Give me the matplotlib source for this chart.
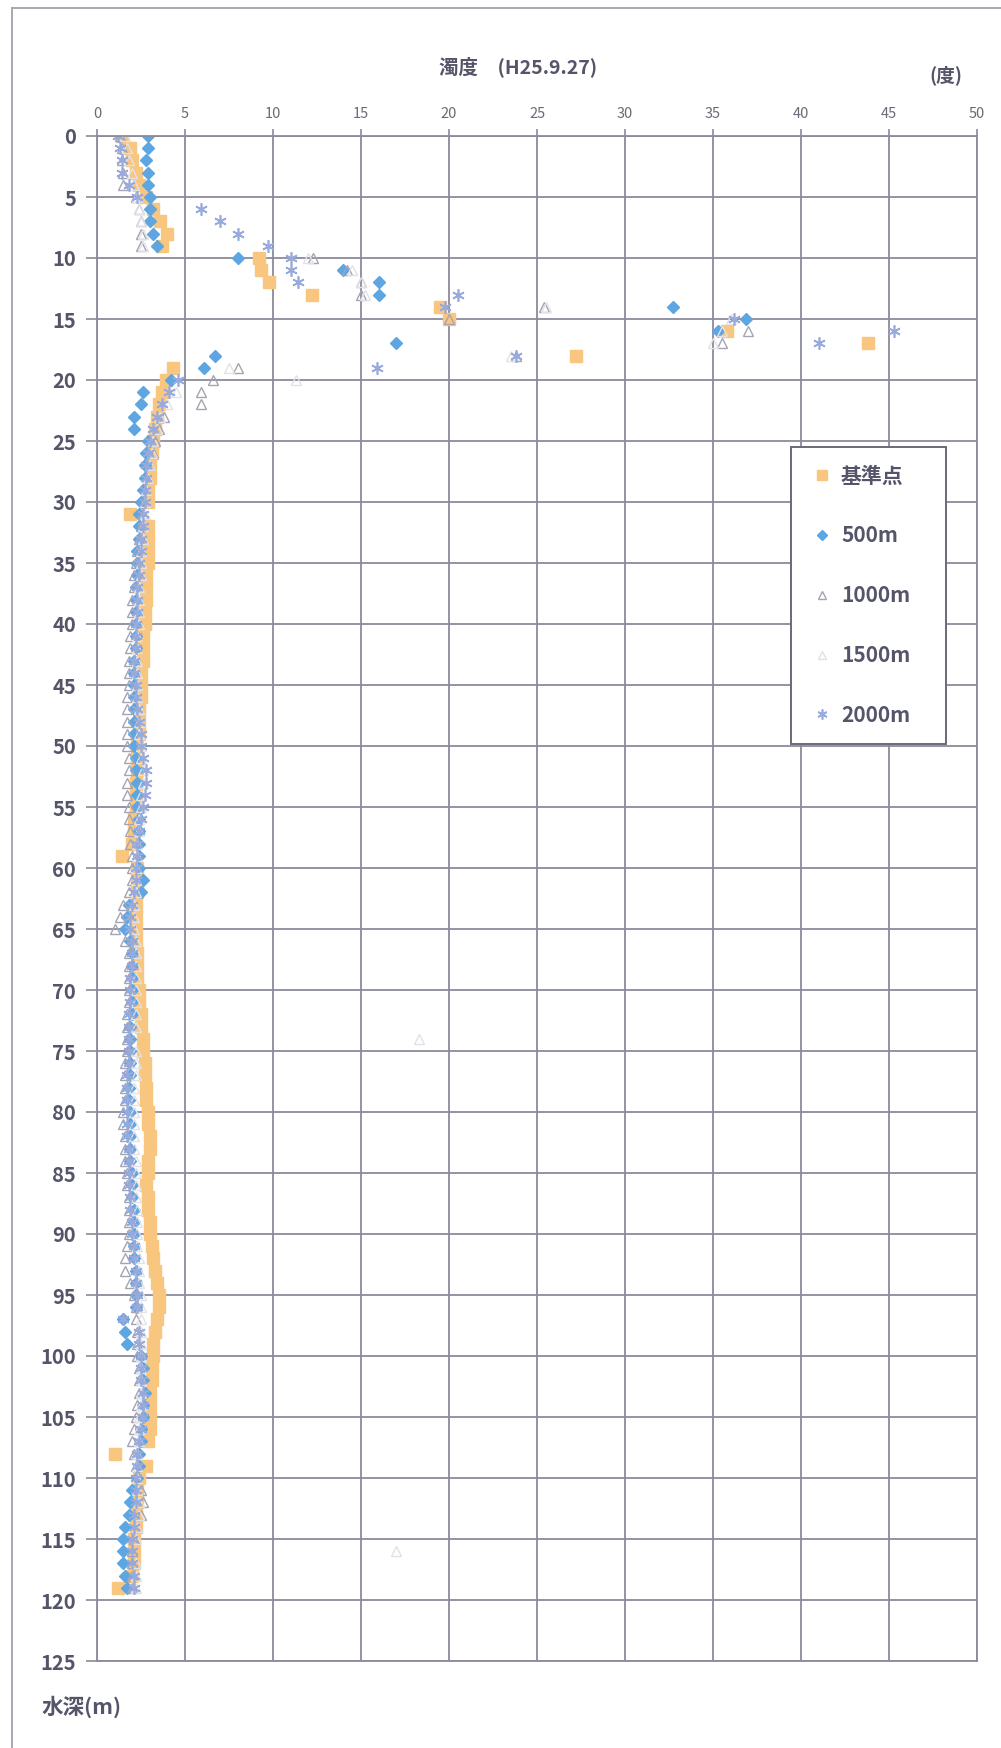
import matplotlib
matplotlib.use("Agg")
import matplotlib.pyplot as plt
from matplotlib.lines import Line2D
import numpy as np

plt.rcParams['font.family'] = ['Noto Sans CJK JP', 'DejaVu Sans']

# ---------------- data ----------------
depth = list(range(0, 120))

kijunten = [
    1.4, 1.9, 2.0, 2.2, 2.4, 2.8, 3.2, 3.6, 4.0, 3.7,
    9.2, 9.3, 9.8, 12.2, 19.5, 20.0, 35.8, 43.8, 27.2, 4.3,
    3.9, 3.7, 3.5, 3.4, 3.3, 3.2, 3.1, 3.0, 3.0, 2.9,
    2.9, 1.9, 2.9, 2.9, 2.9, 2.9, 2.8, 2.8, 2.8, 2.7,
    2.7, 2.6, 2.6, 2.6, 2.5, 2.5, 2.5, 2.4, 2.4, 2.4,
    2.3, 2.3, 2.3, 2.2, 2.2, 2.2, 2.1, 2.1, 2.0, 1.4,
    2.3, 2.3, 2.3, 2.2, 2.2, 2.2, 2.2, 2.3, 2.3, 2.3,
    2.4, 2.4, 2.5, 2.5, 2.6, 2.6, 2.7, 2.7, 2.8, 2.8,
    2.9, 2.9, 3.0, 3.0, 2.9, 2.9, 2.8, 2.9, 2.9, 3.0,
    3.0, 3.1, 3.2, 3.3, 3.4, 3.5, 3.5, 3.4, 3.3, 3.2,
    3.2, 3.1, 3.1, 3.0, 3.0, 3.0, 3.0, 2.9, 1.0, 2.8,
    2.4, 2.3, 2.3, 2.2, 2.2, 2.1, 2.1, 2.1, 2.0, 1.2,
]

m500 = [
    2.9, 2.9, 2.8, 2.9, 2.9, 3.0, 3.0, 3.0, 3.2, 3.4,
    8.0, 14.0, 16.0, 16.0, 32.7, 36.9, 35.3, 17.0, 6.7, 6.1,
    4.2, 2.6, 2.5, 2.1, 2.1, 2.9, 2.8, 2.7, 2.7, 2.6,
    2.5, 2.4, 2.4, 2.4, 2.3, 2.3, 2.3, 2.2, 2.2, 2.2,
    2.2, 2.2, 2.2, 2.1, 2.1, 2.1, 2.1, 2.1, 2.1, 2.1,
    2.1, 2.2, 2.2, 2.3, 2.3, 2.3, 2.4, 2.4, 2.4, 2.4,
    2.4, 2.6, 2.5, 1.8, 1.7, 1.6, 1.9, 2.0, 2.0, 2.0,
    2.0, 2.0, 2.0, 1.9, 1.9, 1.9, 1.9, 1.9, 1.8, 1.8,
    1.9, 1.9, 1.9, 1.9, 1.9, 2.0, 2.0, 2.0, 2.1, 2.1,
    2.1, 2.1, 2.1, 2.2, 2.2, 2.2, 2.2, 1.5, 1.6, 1.7,
    2.5, 2.6, 2.6, 2.7, 2.6, 2.6, 2.5, 2.5, 2.4, 2.4,
    2.3, 2.0, 1.9, 1.8, 1.6, 1.5, 1.5, 1.5, 1.6, 1.7,
]

m1000 = [
    1.3, 1.4, 1.4, 1.5, 1.5, 2.2, 2.4, 2.5, 2.5, 2.5,
    12.3, 14.2, 15.0, 15.0, 25.4, 20.0, 37.0, 35.5, 23.8, 8.0,
    6.6, 5.9, 5.9, 3.8, 3.5, 3.3, 3.2, 3.0, 2.9, 2.8,
    2.7, 2.6, 2.5, 2.4, 2.3, 2.2, 2.1, 2.1, 2.0, 2.0,
    2.0, 1.9, 1.9, 1.8, 1.8, 1.8, 1.7, 1.7, 1.7, 1.7,
    1.7, 1.8, 1.8, 1.7, 1.7, 1.8, 1.8, 1.9, 1.9, 2.0,
    2.0, 2.0, 1.8, 1.5, 1.3, 1.0, 1.6, 1.8, 1.8, 1.8,
    1.8, 1.8, 1.7, 1.7, 1.7, 1.7, 1.6, 1.6, 1.6, 1.6,
    1.5, 1.5, 1.6, 1.6, 1.6, 1.7, 1.7, 1.8, 1.8, 1.8,
    1.8, 1.7, 1.6, 1.6, 1.9, 2.1, 2.2, 2.2, 2.3, 2.3,
    2.3, 2.4, 2.4, 2.4, 2.3, 2.2, 2.1, 2.0, 2.1, 2.2,
    2.3, 2.5, 2.6, 2.5, 2.3, 2.1, 2.0, 2.0, 2.0, 2.0,
]

m1500 = [
    1.6, 1.7, 1.8, 2.0, 2.1, 2.3, 2.4, 2.5, 2.6, 2.6,
    12.0, 14.5, 15.0, 15.2, 25.5, 36.0, 35.5, 35.0, 23.5, 7.5,
    11.3, 4.5, 4.0, 3.6, 3.4, 3.2, 3.1, 3.0, 2.9, 2.8,
    2.7, 2.7, 2.6, 2.6, 2.5, 2.5, 2.5, 2.4, 2.4, 2.4,
    2.4, 2.3, 2.3, 2.3, 2.3, 2.3, 2.3, 2.4, 2.4, 2.4,
    2.5, 2.5, 2.6, 2.6, 2.5, 2.5, 2.4, 2.4, 2.3, 2.3,
    2.2, 2.2, 2.2, 2.1, 2.1, 2.1, 2.2, 2.2, 2.2, 2.2,
    2.2, 2.2, 2.2, 2.2, 18.3, 2.2, 2.2, 2.2, 2.1, 2.1,
    2.1, 2.1, 2.1, 2.1, 2.2, 2.2, 2.2, 2.2, 2.3, 2.3,
    2.3, 2.3, 2.4, 2.4, 2.4, 2.5, 2.5, 2.5, 2.5, 2.5,
    2.5, 2.5, 2.5, 2.5, 2.5, 2.4, 2.4, 2.4, 2.3, 2.3,
    2.3, 2.3, 2.4, 2.4, 2.3, 2.2, 17.0, 2.2, 2.2, 2.2,
]

m2000 = [
    1.2, 1.3, 1.4, 1.4, 1.8, 2.3, 5.9, 7.0, 8.0, 9.7,
    11.0, 11.0, 11.4, 20.5, 19.8, 36.2, 45.3, 41.0, 23.8, 15.9,
    4.6, 4.1, 3.7, 3.4, 3.2, 3.0, 2.9, 2.8, 2.8, 2.7,
    2.7, 2.6, 2.6, 2.5, 2.5, 2.4, 2.4, 2.3, 2.3, 2.3,
    2.2, 2.2, 2.2, 2.1, 2.1, 2.2, 2.2, 2.3, 2.4, 2.5,
    2.5, 2.6, 2.8, 2.8, 2.7, 2.6, 2.5, 2.4, 2.3, 2.3,
    2.2, 2.2, 2.1, 2.0, 1.9, 1.9, 2.0, 2.0, 2.0, 1.9,
    1.9, 1.9, 1.8, 1.8, 1.8, 1.8, 1.8, 1.7, 1.7, 1.7,
    1.7, 1.7, 1.7, 1.8, 1.8, 1.8, 1.8, 1.9, 1.9, 2.0,
    2.0, 2.1, 2.1, 2.2, 2.2, 2.3, 2.3, 1.5, 2.4, 2.4,
    2.5, 2.5, 2.5, 2.6, 2.6, 2.6, 2.5, 2.4, 2.3, 2.3,
    2.2, 2.2, 2.2, 2.1, 2.1, 2.0, 2.0, 2.0, 2.1, 2.1,
]

series_names = ['基準点', '500m', '1000m', '1500m', '2000m']
x_ticks = list(range(0, 51, 5))
y_ticks = list(range(0, 126, 5))

title_text = '濁度　(H25.9.27)'
unit_text = '(度)'
ylabel_text = '水深(m)'

# ---------------- figure ----------------
W, H = 1001, 1748
fig = plt.figure(figsize=(W / 100, H / 100), dpi=100)
fig.patch.set_facecolor('white')

# outer frame (left and top edges of scanned chart area)
fig.add_artist(Line2D([12 / W, 12 / W], [0, 1 - 8 / H], color='#a8a8b0', lw=1.4,
                      transform=fig.transFigure))
fig.add_artist(Line2D([12 / W, 1.0], [1 - 8 / H, 1 - 8 / H], color='#a8a8b0', lw=1.4,
                      transform=fig.transFigure))

ax = fig.add_axes([97 / W, 1 - 1661 / H, 880 / W, 1525 / H])
ax.set_xlim(0, 50)
ax.set_ylim(125, 0)
ax.set_xticks(x_ticks)
ax.set_yticks(y_ticks)
ax.xaxis.tick_top()
ax.grid(True, color='#8a8a9a', lw=1.3)
ax.set_axisbelow(True)
for s in ax.spines.values():
    s.set_color('#8a8a9a')
    s.set_linewidth(1.3)
ax.tick_params(axis='x', colors='#8a8a9a', labelcolor='#6a6a78', length=5, width=1.2,
               labelsize=10.5, pad=6)
ax.tick_params(axis='y', colors='#8a8a9a', labelcolor='#55556a', length=8, width=1.2,
               labelsize=14.5, pad=7)
for lab in ax.get_yticklabels():
    lab.set_fontweight('bold')

c_orange = '#f8c67f'
c_blue = '#5ea6e2'
c_tri = '#a4a4b4'
c_light = '#e2e2e6'
c_ast = '#98aadc'

h0, = ax.plot(kijunten, depth, ls='none', marker='s', ms=8.5, mfc=c_orange, mec=c_orange,
              label=series_names[0])
h1, = ax.plot(m500, depth, ls='none', marker='D', ms=5.8, mfc=c_blue, mec=c_blue,
              label=series_names[1])
h2, = ax.plot(m1000, depth, ls='none', marker='^', ms=7.5, mfc='none', mec=c_tri, mew=1.0,
              label=series_names[2])
h3, = ax.plot(m1500, depth, ls='none', marker='^', ms=7.5, mfc='none', mec=c_light, mew=1.0,
              label=series_names[3])
h4, = ax.plot(m2000, depth, ls='none', marker=(6, 2, 0), ms=9, mec=c_ast, mew=1.2,
              label=series_names[4])

# legend
leg = fig.legend(handles=[h0, h1, h2, h3, h4], loc='upper left',
                 bbox_to_anchor=(791 / W, 1 - 743 / H, 155 / W, 296 / H), mode='expand',
                 frameon=True, fancybox=False, edgecolor='#6a6a78', framealpha=1,
                 prop={'size': 15, 'weight': 'bold'}, labelspacing=1.86, borderpad=0.9,
                 handlelength=1.2, handletextpad=0.3, markerscale=0.8, borderaxespad=0)
leg.get_frame().set_linewidth(1.4)
for t in leg.get_texts():
    t.set_color('#55556a')

# texts
fig.text(518 / W, 1 - 67 / H, title_text, ha='center', va='center', fontsize=14,
         fontweight='bold', color='#55556a')
fig.text(946 / W, 1 - 75 / H, unit_text, ha='center', va='center', fontsize=13.5,
         fontweight='bold', color='#55556a')
fig.text(42 / W, 1 - 1707 / H, ylabel_text, ha='left', va='center', fontsize=15.5,
         fontweight='bold', color='#55556a')

fig.savefig('out.png', dpi=100, facecolor='white')
